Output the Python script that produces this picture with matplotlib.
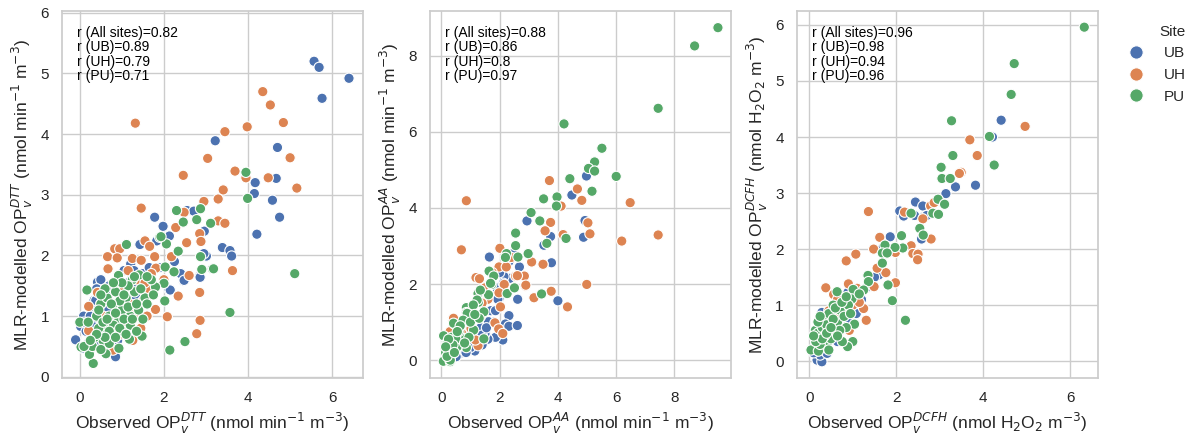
import matplotlib
matplotlib.use("Agg")
import matplotlib.pyplot as plt
import seaborn as sns
import pandas as pd

# --- data (observed, modelled) ---
sites = ["UB", "UH", "PU"]

dtt_ub = [(5.57, 5.20), (5.69, 5.10), (6.40, 4.92), (5.76, 4.59), (3.22, 3.89), (4.70, 3.78), (4.67, 3.27),
          (4.17, 3.20), (4.15, 3.02), (4.58, 2.91), (4.75, 2.63), (4.21, 2.35), (3.39, 2.13), (3.57, 2.08),
          (3.61, 1.99), (3.01, 1.99), (2.95, 2.03), (2.85, 1.66), (2.96, 2.40), (2.55, 2.74), (2.71, 2.73),
          (1.78, 2.63), (1.98, 2.48), (2.13, 2.32), (1.83, 2.24), (1.43, 2.18), (2.47, 1.58), (2.12, 1.44),
          (0.85, 0.33), (-0.08, 0.60), (0.42, 1.56), (0.50, 1.60), (0.09, 1.00), (0.02, 0.83), (0.06, 0.47),
          (1.21, 1.86), (1.29, 1.75), (0.34, 1.26), (2.40, 1.70), (1.05, 1.75), (0.90, 1.60), (0.70, 1.50),
          (0.30, 0.90), (0.15, 0.75), (0.25, 1.15), (0.60, 1.30), (1.50, 1.70), (1.70, 1.50), (0.55, 0.95),
          (0.80, 0.75), (1.10, 1.10), (0.45, 0.65), (0.20, 0.55), (1.35, 1.30), (0.65, 1.10), (0.95, 0.90),
          (1.90, 1.80), (2.25, 1.90), (0.40, 1.45), (1.15, 1.55), (2.15, 1.43), (2.48, 1.59), (2.86, 1.64),
          (0.38, 1.26), (0.34, 0.82), (-0.10, 0.61), (0.10, 0.90), (0.25, 1.00), (0.50, 1.20), (0.75, 1.40),
          (1.00, 1.45), (1.25, 1.65), (0.60, 0.50), (0.90, 0.60), (1.40, 1.50), (1.65, 1.80), (0.35, 0.55)]
dtt_uh = [(4.35, 4.70), (4.53, 4.48), (4.84, 4.19), (1.32, 4.18), (3.98, 4.12), (3.45, 4.04), (3.04, 3.60),
          (5.00, 3.61), (2.46, 3.32), (3.69, 3.39), (3.95, 3.28), (4.48, 3.28), (5.16, 3.11), (3.41, 3.08),
          (3.29, 2.93), (2.95, 2.89), (1.46, 2.78), (2.48, 2.71), (3.29, 2.57), (3.45, 2.53), (2.28, 2.46),
          (2.85, 2.36), (2.54, 2.21), (2.88, 2.23), (1.55, 2.24), (1.66, 2.15), (0.83, 2.11), (0.95, 2.11),
          (0.66, 1.98), (0.89, 1.96), (1.25, 1.95), (1.46, 1.92), (1.78, 1.98), (2.18, 1.98), (0.67, 1.78),
          (1.81, 1.79), (2.60, 1.67), (3.63, 1.75), (1.64, 1.45), (2.34, 1.33), (2.85, 1.39), (0.21, 1.16),
          (0.42, 1.39), (1.80, 1.11), (1.60, 1.00), (2.08, 0.99), (2.86, 0.93), (2.78, 0.71), (0.21, 0.76),
          (1.26, 0.60), (0.79, 0.44), (1.45, 0.80), (1.00, 1.45), (1.20, 1.20), (0.55, 1.00), (0.90, 1.05),
          (1.35, 1.60), (0.70, 0.60), (1.10, 0.85), (1.50, 1.25), (2.00, 1.60), (1.15, 1.75), (0.45, 0.70),
          (1.70, 1.70), (1.30, 1.05), (0.65, 0.85), (1.55, 1.55), (0.95, 0.70)]
dtt_pu = [(3.95, 3.37), (3.99, 2.94), (2.87, 2.77), (2.30, 2.74), (2.78, 2.59), (3.11, 2.53), (2.46, 2.55),
          (1.90, 2.30), (2.06, 2.19), (2.34, 2.07), (2.87, 1.98), (3.15, 1.78), (2.90, 1.77), (5.11, 1.70),
          (2.03, 1.81), (2.24, 1.73), (3.57, 1.06), (2.50, 0.58), (2.14, 0.44), (0.32, 0.22), (1.11, 2.18),
          (0.17, 1.43), (1.18, 0.62), (1.48, 0.67), (2.02, 1.25), (2.00, 1.54), (1.80, 1.48), (1.41, 1.68),
          (0.92, 1.67), (0.03, 0.49), (0.00, 0.90), (0.62, 0.38), (0.23, 0.37), (0.93, 0.47), (0.40, 1.00),
          (0.50, 1.20), (0.60, 0.80), (0.70, 1.00), (0.80, 1.20), (0.90, 0.90), (1.00, 1.10), (1.10, 1.30),
          (1.20, 1.00), (1.30, 1.40), (0.55, 0.60), (0.75, 0.70), (0.85, 1.40), (1.00, 0.75), (1.20, 0.85),
          (1.40, 1.10), (1.55, 1.30), (1.70, 1.60), (0.65, 1.30), (0.45, 0.80), (0.35, 0.65), (0.20, 0.90),
          (0.95, 1.25), (1.05, 0.95), (1.25, 1.60), (1.50, 0.95), (0.70, 0.55), (0.30, 0.50), (0.60, 1.45),
          (1.15, 1.50), (0.80, 0.85), (1.35, 0.75), (0.50, 0.45), (1.60, 1.65), (1.45, 1.45), (0.10, 0.50),
          (1.93, 2.31), (3.18, 1.78), (0.45, 1.10), (0.55, 0.90), (0.65, 0.95), (0.75, 1.20), (0.85, 1.05),
          (0.95, 0.80), (1.05, 1.35), (1.15, 1.15), (1.25, 0.95), (1.35, 1.20), (0.70, 0.75), (0.60, 0.65),
          (0.40, 0.70), (0.85, 0.65), (1.00, 1.55), (1.30, 1.65), (0.50, 1.35), (0.25, 0.60), (1.60, 1.20),
          (1.75, 1.35), (1.10, 0.70), (0.80, 1.55)]

aa_ub = [(4.98, 4.84), (4.48, 4.34), (2.94, 3.66), (4.93, 3.67), (3.75, 3.25), (4.88, 3.23), (3.52, 3.02),
         (3.78, 2.56), (3.49, 2.52), (1.65, 2.71), (2.32, 2.59), (2.68, 2.45), (2.35, 2.15), (2.15, 2.20),
         (1.99, 1.63), (2.62, 1.60), (4.00, 1.56), (2.32, 1.17), (2.20, 0.95), (2.32, 0.89), (2.61, 0.91),
         (2.11, 0.53), (1.86, 0.60), (1.60, 0.55), (1.15, 0.24), (0.65, 0.18), (0.51, 0.09), (1.40, 0.40),
         (1.70, 1.30), (1.50, 0.70), (0.90, 0.30), (0.30, 0.05), (2.00, 2.30), (1.20, 0.60), (0.80, 0.50),
         (2.45, 2.80), (1.80, 1.00), (1.35, 0.85), (1.90, 1.90), (0.40, 0.25), (1.00, 0.35), (2.13, 2.02),
         (1.86, 1.30), (1.62, 1.01), (1.40, 0.66), (1.00, 0.33), (1.94, 1.60), (0.70, 0.40), (0.55, 0.30),
         (1.25, 0.45), (0.35, 0.15), (0.85, 0.20), (1.55, 0.85)]
aa_uh = [(0.86, 4.19), (0.69, 2.90), (3.71, 4.72), (4.67, 4.50), (4.82, 4.20), (6.48, 4.14), (4.11, 4.05),
         (3.75, 3.62), (5.03, 3.61), (3.56, 3.40), (5.10, 3.32), (4.18, 3.30), (6.19, 3.13), (7.44, 3.29),
         (2.01, 2.94), (3.10, 2.58), (3.49, 2.52), (1.98, 2.45), (2.23, 2.45), (2.55, 2.21), (2.85, 2.21),
         (2.16, 1.99), (2.88, 1.95), (4.99, 1.99), (3.77, 1.81), (3.18, 1.64), (4.33, 1.40), (2.03, 1.40),
         (1.98, 1.77), (1.19, 2.17), (1.31, 2.14), (1.84, 0.98), (1.97, 0.82), (2.11, 0.70), (1.02, 0.83),
         (0.39, 1.08), (1.26, 0.38), (1.34, 1.14), (0.42, 1.10), (1.17, 0.53), (1.60, 1.60), (1.50, 1.90),
         (0.80, 0.60), (0.60, 0.90), (2.40, 2.70), (1.75, 2.30), (0.25, 0.60), (0.55, 0.40), (1.00, 1.30),
         (2.61, 2.22), (2.90, 1.97), (0.30, 0.75), (0.70, 0.70), (0.95, 1.05), (0.20, 0.45), (1.40, 1.50)]
aa_pu = [(9.49, 8.74), (8.69, 8.26), (7.44, 6.62), (4.21, 6.21), (5.51, 5.57), (6.00, 4.83), (5.26, 5.21),
         (5.05, 5.04), (5.26, 4.97), (4.41, 4.77), (5.17, 4.44), (3.97, 4.29), (3.51, 4.24), (3.95, 4.05),
         (3.08, 3.88), (3.38, 3.66), (2.55, 3.34), (4.28, 3.20), (3.62, 3.07), (2.55, 3.01), (2.98, 2.80),
         (2.24, 2.80), (2.63, 2.71), (2.20, 2.70), (3.44, 1.74), (2.26, 1.75), (2.51, 1.90), (1.64, 2.34),
         (1.80, 2.21), (1.73, 1.99), (1.62, 1.72), (1.26, 1.75), (1.27, 1.52), (0.86, 1.38), (0.86, 1.25),
         (1.46, 1.27), (0.45, 0.95), (0.08, 0.64), (0.69, 0.59), (1.46, 0.56), (0.86, 0.33), (0.54, 0.33),
         (0.37, 0.16), (0.07, -0.03), (0.31, -0.04), (1.11, 0.79), (1.34, 1.84), (1.23, 1.58), (0.89, 1.23),
         (0.42, 0.97), (0.54, 0.35), (0.31, 0.00), (0.20, 0.45), (0.25, 0.30), (0.60, 0.75), (0.75, 1.05),
         (1.00, 1.00), (1.10, 1.45), (0.35, 0.60), (0.15, 0.20), (0.50, 0.55), (1.30, 1.10), (1.69, 2.02),
         (0.20, 0.10), (0.40, 0.40), (0.65, 0.90), (0.95, 0.60), (0.25, 0.55), (1.15, 1.20), (0.55, 0.75),
         (0.15, 0.35), (0.45, 0.20), (0.80, 0.45)]

dcfh_ub = [(4.41, 4.30), (4.21, 4.00), (3.82, 3.14), (3.36, 3.11), (3.14, 2.99), (2.44, 2.84), (2.61, 2.77),
           (2.08, 2.68), (2.17, 2.59), (2.42, 2.60), (2.64, 2.58), (2.58, 2.18), (1.86, 2.22), (1.69, 2.02),
           (1.60, 1.54), (1.08, 0.85), (0.89, 1.23), (0.29, 0.87), (0.18, 0.02), (0.29, -0.01), (0.25, 0.11),
           (0.41, 0.14), (0.10, 0.15), (0.50, 0.40), (0.70, 0.60), (0.35, 0.30), (1.30, 1.30), (1.50, 1.50),
           (0.60, 0.90), (0.45, 0.50), (0.90, 0.70), (2.70, 2.60), (2.95, 2.85), (0.20, 0.20), (1.20, 1.10),
           (0.30, 0.45), (0.55, 0.65), (0.15, 0.35), (0.40, 0.75), (0.80, 1.00), (0.65, 0.35)]
dcfh_uh = [(4.96, 4.19), (3.69, 3.95), (3.86, 3.67), (3.49, 3.37), (3.45, 3.35), (1.36, 2.67), (2.19, 2.66),
           (2.61, 2.54), (2.79, 2.77), (2.87, 2.83), (2.80, 2.18), (1.62, 2.21), (1.48, 2.00), (2.34, 2.06),
           (2.38, 1.92), (2.50, 1.91), (2.49, 1.81), (1.98, 1.94), (1.07, 1.91), (0.85, 1.79), (1.76, 1.58),
           (1.98, 1.40), (1.56, 1.66), (1.49, 1.33), (1.25, 0.94), (1.31, 0.73), (0.90, 1.38), (0.38, 1.31),
           (0.56, 1.19), (0.92, 0.55), (1.20, 1.25), (0.70, 0.80), (0.50, 0.45), (0.30, 0.35), (1.00, 1.00),
           (0.60, 0.60), (0.80, 0.95), (1.10, 1.30), (0.40, 0.25), (0.25, 0.55), (0.65, 1.10), (0.45, 0.90),
           (1.15, 1.05)]
dcfh_pu = [(6.32, 5.96), (4.71, 5.31), (4.64, 4.76), (3.27, 4.29), (4.14, 4.01), (3.30, 3.67), (4.25, 3.50),
           (3.03, 3.46), (3.05, 3.26), (3.24, 3.26), (2.96, 2.89), (3.11, 2.80), (2.84, 2.64), (2.97, 2.62),
           (2.34, 2.64), (2.54, 2.37), (2.62, 2.25), (2.12, 2.24), (2.15, 2.02), (1.97, 2.03), (1.74, 2.07),
           (1.68, 1.93), (1.79, 1.93), (1.68, 1.75), (1.81, 1.36), (1.91, 1.08), (2.21, 0.73), (1.35, 1.53),
           (1.36, 1.42), (1.25, 1.27), (1.01, 1.28), (0.98, 1.11), (0.64, 1.24), (1.04, 0.66), (1.00, 0.35),
           (0.88, 0.26), (0.76, 0.35), (0.04, 0.20), (0.21, 0.18), (0.37, 0.73), (0.71, 0.91), (0.56, 0.55),
           (0.41, 0.32), (0.14, 0.55), (0.20, 0.50), (0.30, 0.60), (0.45, 0.85), (0.55, 1.00), (0.65, 0.70),
           (0.80, 0.80), (0.90, 1.00), (0.50, 0.40), (0.35, 0.45), (0.25, 0.30), (0.15, 0.35), (0.60, 0.95),
           (0.75, 1.05), (0.85, 0.60), (0.40, 0.65), (1.15, 1.20), (0.20, 0.70), (0.45, 0.20), (0.30, 0.40),
           (0.55, 0.75), (0.70, 0.55), (0.95, 0.85), (0.40, 0.50), (0.65, 0.45), (0.25, 0.80), (0.10, 0.45),
           (0.85, 1.15), (0.50, 0.60)]

r_dtt = ["0.82", "0.89", "0.79", "0.71"]
r_aa = ["0.88", "0.86", "0.8", "0.97"]
r_dcfh = ["0.96", "0.98", "0.94", "0.96"]


def make_df(ub, uh, pu):
    rows = []
    for site, pts in zip(sites, [ub, uh, pu]):
        for x, y in pts:
            rows.append({"obs": x, "mod": y, "Site": site})
    return pd.DataFrame(rows)


panels = [
    (make_df(dtt_ub, dtt_uh, dtt_pu), r_dtt, "DTT", r"(nmol min$^{-1}$ m$^{-3}$)",
     (-0.42, 6.74), (-0.02, 6.03)),
    (make_df(aa_ub, aa_uh, aa_pu), r_aa, "AA", r"(nmol min$^{-1}$ m$^{-3}$)",
     (-0.38, 9.95), (-0.47, 9.18)),
    (make_df(dcfh_ub, dcfh_uh, dcfh_pu), r_dcfh, "DCFH", r"(nmol H$_2$O$_2$ m$^{-3}$)",
     (-0.28, 6.64), (-0.30, 6.25)),
]

sns.set_theme(style="whitegrid")
plt.rcParams["font.family"] = ["Liberation Sans", "DejaVu Sans"]

fig = plt.figure(figsize=(11.95, 4.37), dpi=100)
lefts = [0.052, 0.360, 0.667]
palette = sns.color_palette("deep", 3)

for i, (df, rs, name, unit, xl, yl) in enumerate(panels):
    ax = fig.add_axes([lefts[i], 0.135, 0.252, 0.84])
    sns.scatterplot(data=df, x="obs", y="mod", hue="Site", hue_order=sites,
                    palette=palette, s=55, edgecolor="white", linewidth=0.8,
                    ax=ax, legend=(i == 2))
    ax.set_xlim(*xl)
    ax.set_ylim(*yl)
    ax.set_xlabel("Observed OP$_v^{%s}$ %s" % (name, unit), fontsize=12.5)
    ax.set_ylabel("MLR-modelled OP$_v^{%s}$ %s" % (name, unit), fontsize=12.5)
    ax.tick_params(labelsize=11)
    txt = "r (All sites)=%s\nr (UB)=%s\nr (UH)=%s\nr (PU)=%s" % tuple(rs)
    ax.text(0.05, 0.96, txt, transform=ax.transAxes, va="top", ha="left",
            fontsize=10, linespacing=1.05, color="black")
    if i == 2:
        ax.legend(title="Site", loc="upper left", bbox_to_anchor=(1.03, 1.0),
                  frameon=False, fontsize=11, title_fontsize=11, markerscale=1.3,
                  alignment="right", handletextpad=0.8)

fig.savefig("out.png", dpi=100)
